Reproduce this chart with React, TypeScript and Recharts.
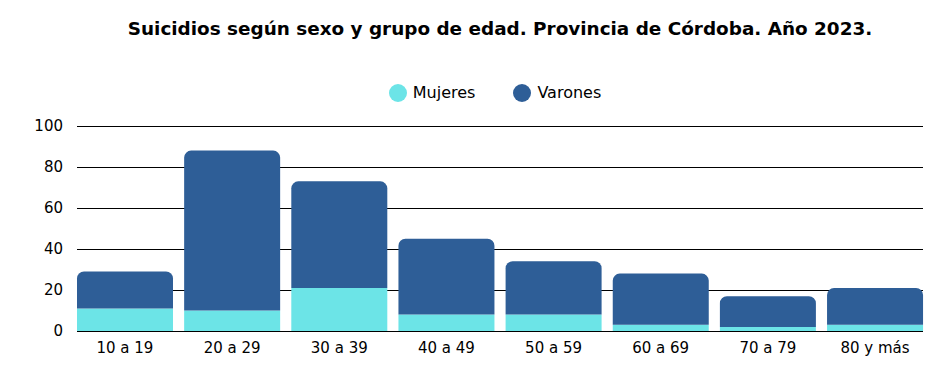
import React from "react";
import { BarChart, Bar, XAxis, YAxis, CartesianGrid } from "recharts";

const categories = ["10 a 19", "20 a 29", "30 a 39", "40 a 49", "50 a 59", "60 a 69", "70 a 79", "80 y más"];
const mujeres = [11, 10, 21, 8, 8, 3, 2, 3];
const varones = [18, 78, 52, 37, 26, 25, 15, 18];
const yTicks = [0, 20, 40, 60, 80, 100];

const MUJ = "#6ce4e7";
const VAR = "#2e5e97";
const FONT = "'DejaVu Sans', sans-serif";

const data = categories.map((c, i) => ({ grupo: c, Mujeres: mujeres[i], Varones: varones[i] }));

const legendItems = [
  { label: "Mujeres", color: MUJ },
  { label: "Varones", color: VAR },
];

function ChartLegend() {
  return (
    <div
      style={{
        position: "absolute",
        left: 0,
        top: 83,
        width: 990,
        display: "flex",
        justifyContent: "center",
        gap: 38,
        fontFamily: FONT,
        fontSize: 16,
      }}
    >
      {legendItems.map((it) => (
        <div key={it.label} style={{ display: "flex", alignItems: "center" }}>
          <span
            style={{ width: 18, height: 18, borderRadius: 9, background: it.color, display: "inline-block", marginRight: 6 }}
          />
          <span style={{ color: "#000" }}>{it.label}</span>
        </div>
      ))}
    </div>
  );
}

export default function App() {
  return (
    <div style={{ position: "absolute", left: 0, top: 0, width: 948, height: 380, background: "#fff" }}>
      <div
        style={{
          position: "absolute",
          left: 0,
          top: 18,
          width: 1000,
          textAlign: "center",
          fontFamily: FONT,
          fontWeight: "bold",
          fontSize: 18.4,
          color: "#000",
        }}
      >
        Suicidios según sexo y grupo de edad. Provincia de Córdoba. Año 2023.
      </div>
      <ChartLegend />
      <BarChart
        width={948}
        height={380}
        data={data}
        barCategoryGap={5.6}
        margin={{ top: 126, right: 25, bottom: 19, left: 13 }}
      >
        <CartesianGrid vertical={false} stroke="#000" strokeWidth={1} shapeRendering="crispEdges" />
        <XAxis
          dataKey="grupo"
          padding={{ left: -5.6, right: -5.6 }}
          axisLine={{ stroke: "#000", shapeRendering: "crispEdges" }}
          tickLine={false}
          tick={{ fill: "#000", fontSize: 15, fontFamily: FONT }}
          tickMargin={5}
        />
        <YAxis
          domain={[0, 100]}
          ticks={yTicks}
          axisLine={false}
          tickLine={false}
          width={64}
          tickMargin={8}
          tick={{ fill: "#000", fontSize: 15, fontFamily: FONT }}
        />
        <Bar dataKey="Mujeres" stackId="a" fill={MUJ} isAnimationActive={false} />
        <Bar dataKey="Varones" stackId="a" fill={VAR} radius={[7, 7, 0, 0]} isAnimationActive={false} />
      </BarChart>
    </div>
  );
}
